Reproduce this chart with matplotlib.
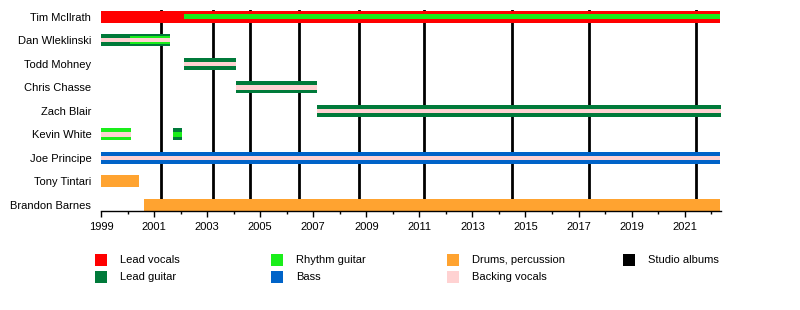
import matplotlib
matplotlib.use("Agg")
import matplotlib.pyplot as plt
from matplotlib.patches import Rectangle
from matplotlib.ticker import MultipleLocator

plt.rcParams["font.family"] = ["Liberation Sans", "DejaVu Sans"]
plt.rcParams["font.size"] = 8

# band members, top to bottom
members = ["Tim McIlrath", "Dan Wleklinski", "Todd Mohney", "Chris Chasse", "Zach Blair",
           "Kevin White", "Joe Principe", "Tony Tintari", "Brandon Barnes"]

END = 2022.35   # "till now"

# one entry per bar: who, from, to, role, layer (main = full bar, mid/inner = narrower overlays)
bar_member = ["Tim McIlrath", "Tim McIlrath",
              "Dan Wleklinski", "Dan Wleklinski", "Dan Wleklinski",
              "Todd Mohney", "Todd Mohney",
              "Chris Chasse", "Chris Chasse",
              "Zach Blair", "Zach Blair",
              "Kevin White", "Kevin White", "Kevin White", "Kevin White",
              "Joe Principe", "Joe Principe",
              "Tony Tintari",
              "Brandon Barnes"]
bar_start = [1999.0, 2002.12,
             1999.0, 2000.1, 1999.0,
             2002.12, 2002.12,
             2004.07, 2004.07,
             2007.15, 2007.15,
             1999.0, 1999.0, 2001.71, 2001.71,
             1999.0, 1999.0,
             1999.0,
             2000.62]
bar_end = [END, END,
           2001.6, 2001.6, 2001.6,
           2004.07, 2004.07,
           2007.15, 2007.15,
           END, END,
           2000.12, 2000.12, 2002.07, 2002.07,
           END, END,
           2000.45,
           END]
bar_role = ["Lead vocals", "Rhythm guitar",
            "Lead guitar", "Rhythm guitar", "Backing vocals",
            "Lead guitar", "Backing vocals",
            "Lead guitar", "Backing vocals",
            "Lead guitar", "Backing vocals",
            "Rhythm guitar", "Backing vocals", "Lead guitar", "Rhythm guitar",
            "Bass", "Backing vocals",
            "Drums, percussion",
            "Drums, percussion"]
bar_layer = ["main", "inner",
             "main", "mid", "inner",
             "main", "inner",
             "main", "inner",
             "main", "inner",
             "main", "inner", "main", "inner",
             "main", "inner",
             "main",
             "main"]

# studio album release dates
albums = ["The Unraveling", "Revolutions per Minute", "Siren Song of the Counter Culture",
          "The Sufferer & the Witness", "Appeal to Reason", "Endgame", "The Black Market",
          "Wolves", "Nowhere Generation"]
album_dates = [2001.26, 2003.23, 2004.6, 2006.46, 2008.72, 2011.18, 2014.51, 2017.4, 2021.41]

# legend order (column-wise as in the picture)
legend_roles = ["Lead vocals", "Lead guitar", "Rhythm guitar", "Bass",
                "Drums, percussion", "Backing vocals", "Studio albums"]

colors = {"Lead vocals": "#ff0000", "Lead guitar": "#007a3a", "Rhythm guitar": "#1aee1a",
          "Bass": "#0063c8", "Drums, percussion": "#ffa330", "Backing vocals": "#ffd2d2",
          "Studio albums": "#000000"}
heights = {"main": 0.51, "mid": 0.34, "inner": 0.19}
zord = {"main": 2, "mid": 3, "inner": 4}

fig = plt.figure(figsize=(8, 3.1), dpi=100)
W, H = 800, 310
ax = fig.add_axes([101/W, 1 - 211/H, (720.5 - 101)/W, (211 - 10)/H])

row = {m: i for i, m in enumerate(members)}
for m, s, e, r, l in zip(bar_member, bar_start, bar_end, bar_role, bar_layer):
    ax.barh(row[m], e - s, left=s, height=heights[l], color=colors[r], lw=0, zorder=zord[l])

for d in album_dates:
    ax.axvline(d, color="black", lw=2, zorder=1)

ax.set_xlim(1999, END)
ax.set_ylim(8.255, -0.285)
ax.set_yticks(range(len(members)), members)
ax.tick_params(axis="y", length=0, pad=7)
ax.xaxis.set_major_locator(MultipleLocator(2))
ax.xaxis.set_minor_locator(MultipleLocator(1))
ax.set_xticks(range(1999, 2022, 2))
ax.tick_params(axis="x", which="major", length=4, width=1, pad=4)
ax.tick_params(axis="x", which="minor", length=2.5, width=1)
for sp in ["left", "top", "right"]:
    ax.spines[sp].set_visible(False)
ax.spines["bottom"].set_linewidth(1)

# legend: 4 columns, 2 rows
for k, r in enumerate(legend_roles):
    col, rr = divmod(k, 2)
    x0 = 95 + 176 * col
    yc = 260 + 17 * rr
    fig.add_artist(Rectangle((x0/W, 1 - (yc + 6)/H), 12/W, 12/H, color=colors[r],
                             transform=fig.transFigure, lw=0))
    fig.text((x0 + 25)/W, 1 - yc/H, r, va="center", ha="left")

fig.savefig("out.png", dpi=100)
